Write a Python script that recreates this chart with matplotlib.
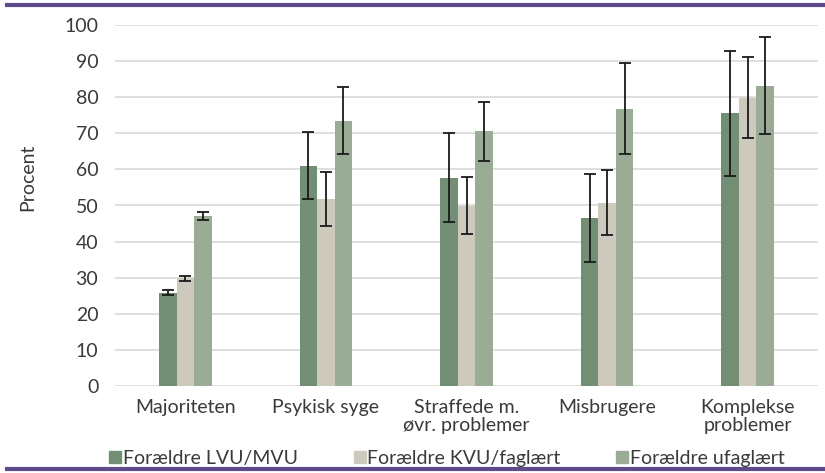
import matplotlib

matplotlib.use("Agg")

import matplotlib.pyplot as plt
import numpy as np
from matplotlib.lines import Line2D

plt.rcParams["font.family"] = ["Lato", "DejaVu Sans"]

categories = ["Majoriteten", "Psykisk syge", "Straffede m.\nøvr. problemer",
              "Misbrugere", "Komplekse\nproblemer"]
series = ["Forældre LVU/MVU", "Forældre KVU/faglært", "Forældre ufaglært"]

# bar values (%) and confidence interval bounds, per series
lvu_mvu = [25.8, 61.0, 57.5, 46.4, 75.5]
lvu_mvu_lo = [25.1, 51.8, 45.3, 34.4, 58.3]
lvu_mvu_hi = [26.6, 70.4, 70.0, 58.6, 92.9]

kvu_faglaert = [29.8, 51.7, 49.9, 50.8, 79.9]
kvu_faglaert_lo = [29.1, 44.4, 42.2, 41.9, 68.8]
kvu_faglaert_hi = [30.5, 59.2, 58.0, 59.9, 91.0]

ufaglaert = [47.0, 73.5, 70.5, 76.8, 83.2]
ufaglaert_lo = [46.0, 64.4, 62.4, 64.2, 69.8]
ufaglaert_hi = [48.2, 82.9, 78.6, 89.6, 96.8]

colors = ["#728f75", "#cdc9bd", "#9aab96"]
PURPLE = "#5f4b8b"
TEXT = "#3a3a3a"
FS = 14

fig = plt.figure(figsize=(8.25, 4.73), dpi=100)
ax = fig.add_axes([115 / 825, 1 - 386 / 473, 703 / 825, 361 / 473])

x = np.arange(len(categories))
width = 0.125
data = [
    (lvu_mvu, lvu_mvu_lo, lvu_mvu_hi),
    (kvu_faglaert, kvu_faglaert_lo, kvu_faglaert_hi),
    (ufaglaert, ufaglaert_lo, ufaglaert_hi),
]
for i, (vals, lo, hi) in enumerate(data):
    vals = np.asarray(vals)
    err = np.vstack([vals - np.asarray(lo), np.asarray(hi) - vals])
    pos = x + (i - 1) * width
    ax.bar(pos, vals, width, color=colors[i], label=series[i], zorder=2)
    ax.errorbar(pos, vals, yerr=err, fmt="none", ecolor="#1a1a1a",
                elinewidth=1.3, capsize=4.5, capthick=1.3, zorder=3)

ax.set_xlim(-0.5, len(categories) - 0.5)
ax.set_ylim(0, 100)
ax.set_yticks(np.arange(0, 101, 10))
ax.grid(True, axis="y", color="#d9d9d9", linewidth=1.2, zorder=0)
ax.set_axisbelow(True)
for side in ("top", "right", "left", "bottom"):
    ax.spines[side].set_visible(False)
ax.tick_params(axis="y", length=0, labelsize=FS, colors=TEXT, pad=12)
ax.tick_params(axis="x", length=0, labelsize=FS, colors=TEXT, pad=9)
ax.set_xticks(x)
ax.set_xticklabels(categories, linespacing=1.12)

fig.text(28 / 825, 1 - 177 / 473, "Procent", rotation=90, ha="center",
         va="center", fontsize=FS, color=TEXT)

handles = [Line2D([0], [0], marker="s", linestyle="none", markersize=8.5,
                  markerfacecolor=c, markeredgecolor=c) for c in colors]
fig.legend(handles, series, loc="center", bbox_to_anchor=(446 / 825, 1 - 458 / 473),
           ncol=3, frameon=False, fontsize=FS, handletextpad=0.0,
           columnspacing=2.75, handlelength=0.8, labelcolor=TEXT)

# purple rules at top and bottom
fig.add_artist(Line2D([7 / 825, 1], [1 - 5 / 473] * 2, color=PURPLE, linewidth=3))
fig.add_artist(Line2D([7 / 825, 1], [1 - 469 / 473] * 2, color=PURPLE, linewidth=3))

fig.savefig("out.png", dpi=100)
